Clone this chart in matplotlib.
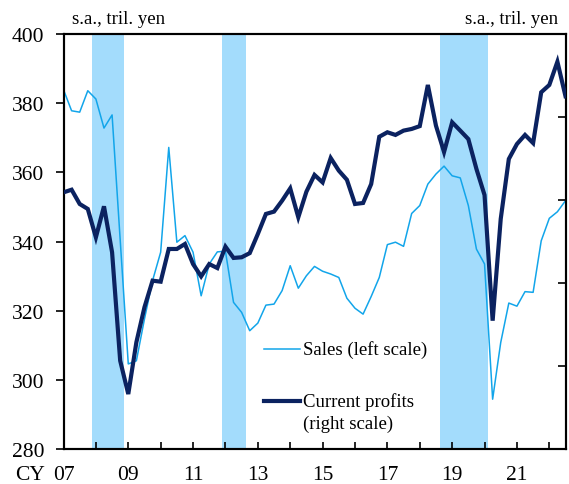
import matplotlib
matplotlib.use("Agg")
import matplotlib.pyplot as plt
import numpy as np
from matplotlib.lines import Line2D

plt.rcParams['font.family'] = ['Liberation Serif', 'DejaVu Serif']

# Quarterly data, 2007 Q1 .. 2022 Q3
start_year = 2007
sales = [383.9, 377.8, 377.4, 383.6, 381.2, 372.8, 376.6, 340.5, 304.6, 305.5,
         317.6, 328.7, 336.9, 367.2, 339.8, 341.7, 336.9, 324.3, 333.5, 337.0,
         337.2, 322.4, 319.5, 314.2, 316.4, 321.6, 321.9, 325.8, 333.0, 326.5,
         330.1, 332.8, 331.4, 330.6, 329.6, 323.6, 320.7, 319.0, 324.1, 329.6,
         339.1, 339.8, 338.6, 348.1, 350.4, 356.6, 359.5, 361.8, 359.0, 358.4,
         350.4, 337.8, 333.5, 294.4, 310.8, 322.2, 321.3, 325.5, 325.3, 340.2,
         346.7, 348.6, 351.8]
profits = [15.46, 15.62, 14.76, 14.46, 12.75, 14.62, 11.85, 5.32, 3.31, 6.43,
           8.54, 10.14, 10.08, 12.05, 12.05, 12.35, 11.14, 10.40, 11.14, 10.90,
           12.19, 11.51, 11.55, 11.80, 12.95, 14.16, 14.30, 14.96, 15.70, 13.96,
           15.50, 16.51, 16.06, 17.53, 16.77, 16.22, 14.76, 14.82, 15.96, 18.81,
           19.08, 18.92, 19.18, 19.28, 19.45, 21.93, 19.48, 17.89, 19.68, 19.18,
           18.67, 16.87, 15.30, 7.73, 13.86, 17.47, 18.37, 18.92, 18.43, 21.49,
           21.93, 23.33, 21.25]
recessions = [(2007.89, 2008.87), (2011.88, 2012.62), (2018.62, 2020.11)]
year_ticks = list(range(2007, 2023))
year_labels = [f"{y % 100:02d}" if y % 2 == 1 else "" for y in year_ticks]
left_ticks = [280, 300, 320, 340, 360, 380, 400]
right_ticks = [0, 5, 10, 15, 20, 25]

x = start_year + np.arange(len(sales)) / 4.0

fig = plt.figure(figsize=(5.69, 4.85), dpi=100)
ax = fig.add_axes([63.5 / 569, 1 - 450 / 485, 502 / 569, 415 / 485])
ax2 = ax.twinx()

shade = "#a3dcfc"
for a, b in recessions:
    ax.axvspan(a, b, color=shade, lw=0, zorder=0)

sales_c = "#12a5ea"
prof_c = "#0b2260"
ax.plot(x, sales, color=sales_c, lw=1.1, zorder=3)
ax2.plot(x, profits, color=prof_c, lw=3.0, zorder=3, solid_joinstyle='miter')

ax.set_xlim(2007, 2007 + (len(sales) - 1) / 4.0)
ax.set_ylim(280, 400)
ax2.set_ylim(0, 25)

ax.set_yticks(left_ticks)
ax.set_xticks(year_ticks)
ax.set_xticklabels(year_labels)
ax2.set_yticks(right_ticks)
ax2.set_yticklabels([])

fs_tick = 15.5
fs_txt = 13.5
ax.tick_params(axis='y', direction='out', length=6, width=1.2, labelsize=fs_tick, pad=8)
ax.tick_params(axis='x', direction='in', length=5, width=1.2, labelsize=fs_tick, pad=11.5)
ax2.tick_params(axis='y', direction='in', length=6, width=1.2)
for a_ in (ax, ax2):
    for s in a_.spines.values():
        s.set_linewidth(1.5)

# "CY" placed on the same row as the x tick labels
lab07 = ax.get_xticklabels()[0]
ax.annotate("CY", xy=(0, 0), xycoords=lab07, xytext=(-27, 0),
            textcoords='offset points', fontsize=fs_tick, ha='left', va='bottom')

ax.text(0.017, 1.0265, "s.a., tril. yen", transform=ax.transAxes, fontsize=fs_txt,
        ha='left', va='baseline')
ax.text(0.985, 1.0265, "s.a., tril. yen", transform=ax.transAxes, fontsize=fs_txt,
        ha='right', va='baseline')

# legend keys
ax.add_line(Line2D([0.399, 0.471], [0.241, 0.241], transform=ax.transAxes,
                   color=sales_c, lw=1.1, zorder=5))
ax.text(0.477, 0.241, "Sales (left scale)", transform=ax.transAxes,
        fontsize=fs_txt, ha='left', va='center')
ax.add_line(Line2D([0.399, 0.471], [0.1157, 0.1157], transform=ax.transAxes,
                   color=prof_c, lw=3.0, zorder=5))
ax.text(0.477, 0.1157, "Current profits", transform=ax.transAxes,
        fontsize=fs_txt, ha='left', va='center')
ax.text(0.477, 0.0627, "(right scale)", transform=ax.transAxes,
        fontsize=fs_txt, ha='left', va='center')

fig.savefig("out.png", dpi=100)
